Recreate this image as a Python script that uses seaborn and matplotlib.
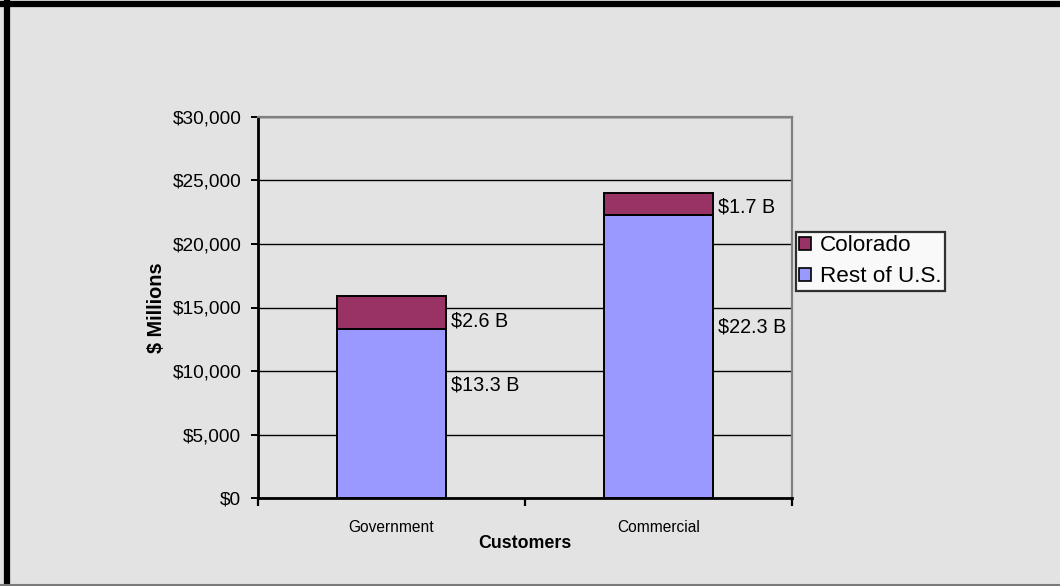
import matplotlib
matplotlib.use("Agg")
import matplotlib.pyplot as plt
from matplotlib.lines import Line2D
from matplotlib.patches import Patch
from matplotlib.ticker import FuncFormatter, FixedLocator
import seaborn as sns
import pandas as pd

# Federal spending by customer type, $ millions
categories = ["Government", "Commercial"]
rest_of_us = [13300, 22300]
colorado = [2600, 1700]
rest_labels = ["$13.3 B", "$22.3 B"]
colorado_labels = ["$2.6 B", "$1.7 B"]

# vertical anchors (data units) for the value labels
rest_label_y = [8900, 13500]
colorado_label_y = [13900, 22900]

sns.set_theme(style="white")
plt.rcParams["font.family"] = ["Liberation Sans", "DejaVu Sans"]
plt.rcParams.update({"text.color": "black", "axes.labelcolor": "black",
                     "xtick.color": "black", "ytick.color": "black"})

BG = "#E3E3E3"
REST_COLOR = "#9999FF"
CO_COLOR = "#993366"

fig = plt.figure(figsize=(10.6, 5.86), dpi=100, facecolor=BG)
ax = fig.add_axes([258 / 1060, 1 - 498 / 586, (792 - 258) / 1060, (498 - 117) / 586])
ax.set_facecolor(BG)

df = pd.DataFrame({"cat": categories, "rest": rest_of_us, "co": colorado})
bar_w = 0.405
sns.barplot(data=df, x="cat", y="rest", color=REST_COLOR, width=bar_w,
            edgecolor="black", linewidth=1.4, saturation=1, ax=ax, zorder=3)
sns.barplot(data=df, x="cat", y="co", bottom=df["rest"], color=CO_COLOR, width=bar_w,
            edgecolor="black", linewidth=1.4, saturation=1, ax=ax, zorder=3)

ax.set_xlim(-0.5, 1.5)
ax.set_ylim(0, 30000)
ax.set_yticks(range(0, 30001, 5000))
ax.yaxis.set_major_formatter(FuncFormatter(lambda v, p: f"${v:,.0f}"))
ax.grid(axis="y", color="black", linewidth=1.0, zorder=0)
ax.set_axisbelow(True)

# category boundary ticks on the x axis, labels centred without ticks
ax.xaxis.set_minor_locator(FixedLocator([-0.5, 0.5, 1.5]))
ax.tick_params(axis="x", which="major", length=0, pad=16, labelsize=11.2)
ax.tick_params(axis="x", which="minor", length=6, width=1.6, direction="out")
ax.tick_params(axis="y", which="major", length=5, width=1.4,
               direction="out", labelsize=13.7, pad=7)
ax.xaxis.set_ticks_position("bottom")
ax.yaxis.set_ticks_position("left")

for side in ["left", "bottom"]:
    ax.spines[side].set_color("black")
    ax.spines[side].set_linewidth(2.0)
for side in ["top", "right"]:
    ax.spines[side].set_color("#808080")
    ax.spines[side].set_linewidth(1.6)

ax.set_xlabel("Customers", fontsize=12.8, fontweight="bold", labelpad=0)
ax.set_ylabel("$ Millions", fontsize=14.3, fontweight="bold", labelpad=5)

for i in range(len(categories)):
    ax.annotate(colorado_labels[i], xy=(i + bar_w / 2, colorado_label_y[i]),
                xytext=(4, 0), textcoords="offset points", va="center", ha="left",
                fontsize=14.2, zorder=5)
    ax.annotate(rest_labels[i], xy=(i + bar_w / 2, rest_label_y[i]),
                xytext=(4, 0), textcoords="offset points", va="center", ha="left",
                fontsize=14.2, zorder=5)

handles = [Patch(facecolor=CO_COLOR, edgecolor="black", linewidth=1.2),
           Patch(facecolor=REST_COLOR, edgecolor="black", linewidth=1.2)]
leg = fig.legend(handles, ["Colorado", "Rest of U.S."], loc="upper left",
                 bbox_to_anchor=(796 / 1060, 1 - 232 / 586), fontsize=16.2,
                 frameon=True, fancybox=False, borderpad=0.15, handlelength=0.5,
                 handleheight=0.5, handletextpad=0.4, labelspacing=0.45,
                 borderaxespad=0)
leg.get_frame().set_edgecolor("black")
leg.get_frame().set_linewidth(1.6)
leg.get_frame().set_facecolor("white")

# outer chart frame
fig.add_artist(Line2D([0, 1], [1 - 3.5 / 586] * 2, color="black", linewidth=4.5,
                      transform=fig.transFigure))
fig.add_artist(Line2D([7 / 1060] * 2, [0, 1], color="black", linewidth=4.5,
                      transform=fig.transFigure))
fig.add_artist(Line2D([0, 1], [1.5 / 586] * 2, color="#7a7a7a", linewidth=1.5,
                      transform=fig.transFigure))

fig.savefig("out.png", dpi=100, facecolor=BG)
